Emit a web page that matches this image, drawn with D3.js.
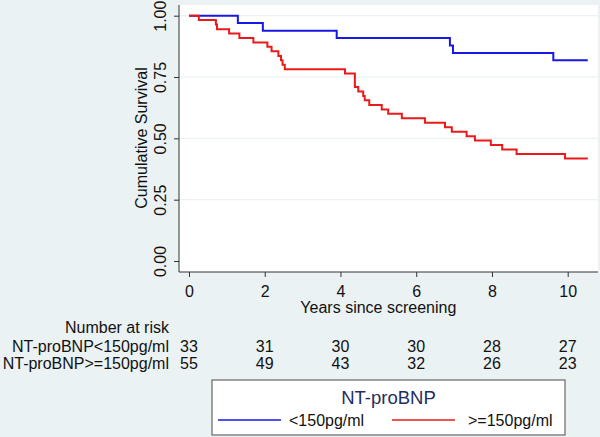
<!DOCTYPE html>
<html>
<head>
<meta charset="utf-8">
<script src="https://cdn.jsdelivr.net/npm/d3@7.9.0/dist/d3.min.js"></script>
<style>
  body { margin: 0; background: #eaf2f3; }
  svg { display: block; font-family: "Liberation Sans", Arial, sans-serif; }
</style>
</head>
<body>
<svg id="chart" width="600" height="437"></svg>
<script>
// Kaplan-Meier steps (time in years, survival)
const lowTimes = [0, 1.29, 1.95, 3.90, 6.89, 6.97, 9.62, 10.53];
const lowSurv = [1, 0.970, 0.939, 0.909, 0.879, 0.848, 0.818, 0.818];

const highTimes = [0, 0.26, 0.71, 0.74, 1.06, 1.33, 1.70,
  2.07, 2.18, 2.36, 2.43, 2.47, 2.53,
  4.12, 4.38, 4.47, 4.60, 4.64, 4.76, 5.09, 5.26, 5.62,
  6.23, 6.76, 6.94, 7.33, 7.55, 7.97,
  8.27, 8.65, 9.93, 10.53];
const highSurv = [1, 0.982, 0.964, 0.945, 0.927, 0.909, 0.891,
  0.873, 0.855, 0.836, 0.818, 0.800, 0.782,
  0.764, 0.709, 0.691, 0.673, 0.655, 0.636, 0.618, 0.600, 0.582,
  0.564, 0.545, 0.527, 0.509, 0.491, 0.473,
  0.455, 0.436, 0.418, 0.418];

const xTicks = [0, 2, 4, 6, 8, 10];
const yTicks = [0, 0.25, 0.5, 0.75, 1];
const gridValues = [0.25, 0.5, 0.75, 1];

const groupLabels = ['NT-proBNP<150pg/ml', 'NT-proBNP>=150pg/ml'];
const legendLabels = ['<150pg/ml', '>=150pg/ml'];
const lowAtRisk = [33, 31, 30, 30, 28, 27];
const highAtRisk = [55, 49, 43, 32, 26, 23];

const colors = ['#1818e4', '#ea1a1a'];
const textColor = '#111';

const plot = { left: 179, right: 598, top: 5, bottom: 272 };

const svg = d3.select('#chart');

let x = d3.scaleLinear().domain([0, 10]).range([189, 567.7]);
let y = d3.scaleLinear().domain([0, 1]).range([261, 15.7]);

// background + plot region
svg.append('rect').attr('width', 600).attr('height', 437).attr('fill', '#eaf2f3');
svg.append('rect')
  .attr('x', plot.left).attr('y', plot.top)
  .attr('width', plot.right - plot.left)
  .attr('height', plot.bottom - plot.top)
  .attr('fill', '#fff');

// grid
svg.append('g')
  .selectAll('line')
  .data(gridValues)
  .join('line')
  .attr('x1', plot.left).attr('x2', plot.right)
  .attr('y1', (d) => y(d)).attr('y2', (d) => y(d))
  .attr('stroke', '#eaf2f3')
  .attr('stroke-width', 1.2);

// axes
let yAxis = svg.append('g')
  .attr('transform', `translate(${plot.left},0)`)
  .call(d3.axisLeft(y).tickValues(yTicks).tickSize(5).tickFormat(d3.format('.2f')));
yAxis.select('.domain').remove();
yAxis.selectAll('line').attr('stroke', '#333');
yAxis.selectAll('text')
  .attr('transform', 'rotate(-90)')
  .attr('x', 0).attr('y', -13).attr('dy', 0)
  .attr('text-anchor', 'middle')
  .attr('font-size', 16)
  .attr('font-family', null)
  .attr('fill', textColor);

let xAxis = svg.append('g')
  .attr('transform', `translate(0,${plot.bottom})`)
  .call(d3.axisBottom(x).tickValues(xTicks).tickSize(5));
xAxis.select('.domain').remove();
xAxis.selectAll('line').attr('stroke', '#333');
xAxis.selectAll('text')
  .attr('y', 24.5).attr('dy', 0)
  .attr('font-size', 16)
  .attr('font-family', null)
  .attr('fill', textColor);

svg.append('line')
  .attr('x1', plot.left).attr('x2', plot.left)
  .attr('y1', plot.top).attr('y2', plot.bottom)
  .attr('stroke', '#333');
svg.append('line')
  .attr('x1', plot.left).attr('x2', plot.right)
  .attr('y1', plot.bottom).attr('y2', plot.bottom)
  .attr('stroke', '#333');

// axis titles
svg.append('text')
  .attr('transform', 'translate(147,138) rotate(-90)')
  .attr('text-anchor', 'middle')
  .attr('font-size', 16)
  .attr('fill', textColor)
  .text('Cumulative Survival');

svg.append('text')
  .attr('x', (x(0) + x(10)) / 2).attr('y', 312.5)
  .attr('text-anchor', 'middle')
  .attr('font-size', 16)
  .attr('fill', textColor)
  .text('Years since screening');

// survival curves
let stepLine = d3.line()
  .x((d) => x(d[0]))
  .y((d) => y(d[1]))
  .curve(d3.curveStepAfter);

let series = [
  d3.zip(lowTimes, lowSurv),
  d3.zip(highTimes, highSurv),
];

series.forEach((pts, i) => {
  svg.append('path')
    .attr('d', stepLine(pts))
    .attr('fill', 'none')
    .attr('stroke', colors[i])
    .attr('stroke-width', 2);
});

// number at risk table
svg.append('text')
  .attr('x', 169).attr('y', 333)
  .attr('text-anchor', 'end')
  .attr('font-size', 16)
  .attr('fill', textColor)
  .text('Number at risk');

[lowAtRisk, highAtRisk].forEach((row, i) => {
  let rowY = 352 + i * 16.5;
  svg.append('text')
    .attr('x', 169).attr('y', rowY)
    .attr('text-anchor', 'end')
    .attr('font-size', 16)
    .attr('fill', textColor)
    .text(groupLabels[i]);
  svg.append('g')
    .selectAll('text')
    .data(row)
    .join('text')
    .attr('x', (d, j) => x(xTicks[j]))
    .attr('y', rowY)
    .attr('text-anchor', 'middle')
    .attr('font-size', 16)
    .attr('fill', textColor)
    .text((d) => d);
});

// legend
let legend = svg.append('g');
legend.append('rect')
  .attr('x', 212).attr('y', 380)
  .attr('width', 353).attr('height', 55)
  .attr('fill', '#fff')
  .attr('stroke', '#666')
  .attr('stroke-width', 1.2);
legend.append('text')
  .attr('x', 388.5).attr('y', 404)
  .attr('text-anchor', 'middle')
  .attr('font-size', 18.5)
  .attr('fill', '#1f2f5f')
  .text('NT-proBNP');

let legendX = [218, 392];
legendLabels.forEach((label, i) => {
  legend.append('line')
    .attr('x1', legendX[i]).attr('x2', legendX[i] + 63)
    .attr('y1', 420).attr('y2', 420)
    .attr('stroke', colors[i])
    .attr('stroke-width', 1.6);
  legend.append('text')
    .attr('x', legendX[i] + (i === 0 ? 71 : 76)).attr('y', 425.5)
    .attr('font-size', 16)
    .attr('fill', textColor)
    .text(label);
});
</script>
</body>
</html>
